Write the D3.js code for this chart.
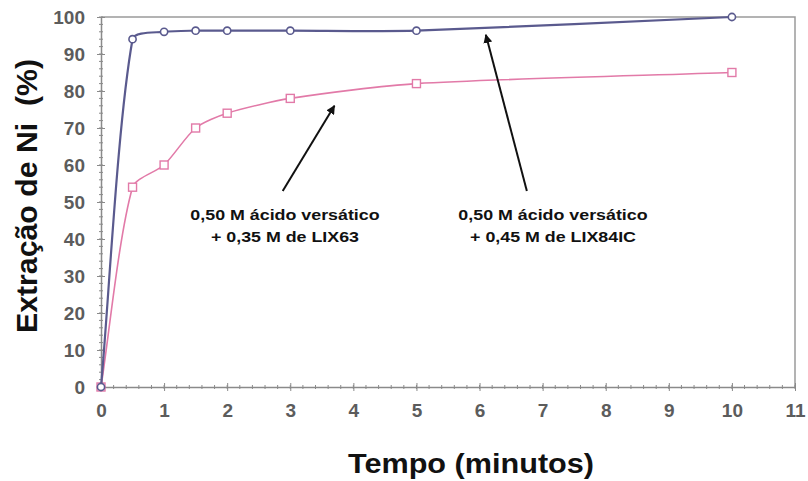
<!DOCTYPE html>
<html>
<head>
<meta charset="utf-8">
<script src="https://cdn.jsdelivr.net/npm/d3@7"></script>
<style>
  html, body { margin: 0; padding: 0; background: #fff; }
  svg { display: block; font-family: Arial, "Liberation Sans", sans-serif; }
</style>
</head>
<body>
<svg id="chart" width="808" height="481"></svg>
<script>
// Time (minutes) and Ni extraction (%) for the two extractant mixtures
const tempo = [0, 0.5, 1, 1.5, 2, 3, 5, 10];
const lix84ic = [0, 94, 96, 96.3, 96.3, 96.3, 96.3, 100];
const lix63 = [0, 54, 60, 70, 74, 78, 82, 85];
const xTicks = [0, 1, 2, 3, 4, 5, 6, 7, 8, 9, 10, 11];
const yTicks = [0, 10, 20, 30, 40, 50, 60, 70, 80, 90, 100];
const notes = [
  { lines: ["0,50 M ácido versático", "+ 0,35 M de LIX63"], from: [2.88, 53], to: [3.7, 76] },
  { lines: ["0,50 M ácido versático", "+ 0,45 M de LIX84IC"], from: [6.75, 53], to: [6.1, 95.2] }
];

const svg = d3.select("#chart");
const m = { left: 101, right: 795, top: 17, bottom: 387 };
const x = d3.scaleLinear().domain([0, 11]).range([m.left, m.right]);
const y = d3.scaleLinear().domain([0, 100]).range([m.bottom, m.top]);

const axisColor = "#8a8a8a";
const font = "Arial, 'Liberation Sans', sans-serif";

// Plot frame (top and right edges)
svg.append("path")
  .attr("d", `M${x(0)},${y(100)}H${x(11)}V${y(0)}`)
  .attr("fill", "none").attr("stroke", "#9a9a9a").attr("stroke-width", 1.5);

// Minor ticks
const minorX = d3.range(0, 11.001, 0.2);
svg.append("g").selectAll("line").data(minorX).join("line")
  .attr("x1", d => x(d)).attr("x2", d => x(d))
  .attr("y1", y(0) - 2).attr("y2", y(0) + 2)
  .attr("stroke", axisColor).attr("stroke-width", 1);
const minorY = d3.range(0, 100.001, 2);
svg.append("g").selectAll("line").data(minorY).join("line")
  .attr("x1", x(0) - 2).attr("x2", x(0) + 2)
  .attr("y1", d => y(d)).attr("y2", d => y(d))
  .attr("stroke", axisColor).attr("stroke-width", 1);

// Axes
const xAxis = d3.axisBottom(x).tickValues(xTicks).tickSize(4).tickSizeOuter(0).tickPadding(13);
const gx = svg.append("g").attr("transform", `translate(0,${y(0)})`).call(xAxis);
gx.select(".domain").attr("stroke", axisColor).attr("stroke-width", 1.5);
gx.selectAll(".tick line").attr("stroke", axisColor).attr("y1", -4);
gx.selectAll(".tick text").attr("fill", "#5c5c5c").attr("font-size", 19).attr("font-weight", "bold")
  .attr("font-family", font);

const yAxis = d3.axisLeft(y).tickValues(yTicks).tickSize(4).tickSizeOuter(0).tickPadding(12);
const gy = svg.append("g").attr("transform", `translate(${x(0)},0)`).call(yAxis);
gy.select(".domain").attr("stroke", axisColor).attr("stroke-width", 1.5);
gy.selectAll(".tick line").attr("stroke", axisColor).attr("x1", 4);
gy.selectAll(".tick text").attr("fill", "#5c5c5c").attr("font-size", 19).attr("font-weight", "bold")
  .attr("font-family", font);

// Axis titles
svg.append("text")
  .attr("transform", `translate(27,196) rotate(-90)`)
  .attr("text-anchor", "middle").attr("dominant-baseline", "central")
  .attr("font-size", 29).attr("font-weight", "bold").attr("fill", "#111")
  .attr("xml:space", "preserve")
  .attr("textLength", 274).attr("lengthAdjust", "spacingAndGlyphs")
  .text("Extração de Ni  (%)");
svg.append("text")
  .attr("x", 471).attr("y", 473)
  .attr("text-anchor", "middle")
  .attr("font-size", 27).attr("font-weight", "bold").attr("fill", "#111")
  .attr("textLength", 246).attr("lengthAdjust", "spacingAndGlyphs")
  .text("Tempo (minutos)");

// Smoothed line: Bezier handles follow the neighbour chord direction,
// each scaled by the length of the segment it belongs to.
function smoothPath(pts, s) {
  const p = d3.path();
  const n = pts.length;
  const dir = pts.map((pt, i) => {
    const a = pts[Math.max(0, i - 1)], b = pts[Math.min(n - 1, i + 1)];
    const dx = b[0] - a[0], dy = b[1] - a[1], l = Math.hypot(dx, dy) || 1;
    return [dx / l, dy / l];
  });
  p.moveTo(pts[0][0], pts[0][1]);
  for (let i = 0; i < n - 1; i++) {
    const a = pts[i], b = pts[i + 1];
    const len = Math.hypot(b[0] - a[0], b[1] - a[1]) * s;
    const c1 = [a[0] + dir[i][0] * len, a[1] + dir[i][1] * len];
    const c2 = [b[0] - dir[i + 1][0] * len, b[1] - dir[i + 1][1] * len];
    p.bezierCurveTo(c1[0], c1[1], c2[0], c2[1], b[0], b[1]);
  }
  return p.toString();
}

// Series
const series = [
  { values: lix63, color: "#e27aa8", width: 1.6, marker: "square" },
  { values: lix84ic, color: "#5a5a8e", width: 2.2, marker: "circle" }
];

series.forEach(s => {
  const pts = tempo.map((t, i) => [x(t), y(s.values[i])]);
  svg.append("path").attr("d", smoothPath(pts, 0.25))
    .attr("fill", "none").attr("stroke", s.color).attr("stroke-width", s.width);
  const g = svg.append("g");
  if (s.marker === "square") {
    g.selectAll("rect").data(pts).join("rect")
      .attr("x", d => d[0] - 4).attr("y", d => d[1] - 4)
      .attr("width", 8).attr("height", 8)
      .attr("fill", "#fff").attr("stroke", s.color).attr("stroke-width", 1.4);
  } else {
    g.selectAll("circle").data(pts).join("circle")
      .attr("cx", d => d[0]).attr("cy", d => d[1]).attr("r", 3.6)
      .attr("fill", "#fff").attr("stroke", s.color).attr("stroke-width", 1.6);
  }
});

// Annotation arrows and labels
const defs = svg.append("defs");
defs.append("marker").attr("id", "head")
  .attr("viewBox", "0 0 10 10").attr("refX", 9).attr("refY", 5)
  .attr("markerWidth", 4.5).attr("markerHeight", 4.5).attr("orient", "auto")
  .append("path").attr("d", "M0,0L10,5L0,10z").attr("fill", "#111");

notes.forEach((n, i) => {
  svg.append("line")
    .attr("x1", x(n.from[0])).attr("y1", y(n.from[1]))
    .attr("x2", x(n.to[0])).attr("y2", y(n.to[1]))
    .attr("stroke", "#111").attr("stroke-width", 2)
    .attr("marker-end", "url(#head)");
  const cx = i === 0 ? 285 : 553;
  n.lines.forEach((l, k) => {
    const t = svg.append("text").attr("text-anchor", "middle")
      .attr("x", cx).attr("y", 220 + k * 22)
      .attr("font-size", 15.5).attr("font-weight", "bold").attr("fill", "#111")
      .text(l);
    const w = t.node().getComputedTextLength();
    t.attr("textLength", w * 1.15).attr("lengthAdjust", "spacingAndGlyphs");
  });
});
</script>
</body>
</html>
